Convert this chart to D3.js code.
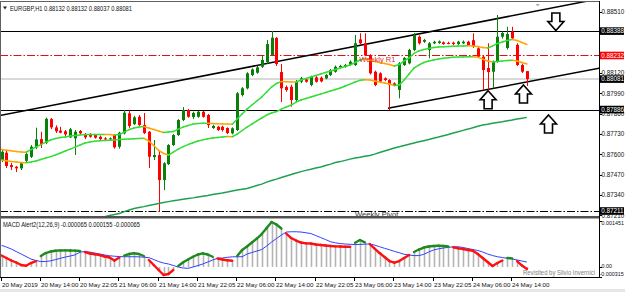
<!DOCTYPE html>
<html><head><meta charset="utf-8">
<script src="https://cdn.jsdelivr.net/npm/d3@7"></script>
<style>html,body{margin:0;padding:0;background:#fff;overflow:hidden}svg{display:block}text{font-family:"Liberation Sans",Arial,sans-serif}</style>
</head><body><svg id="c" width="625" height="292"></svg>
<script>
const symbol = "EURGBP,H1";
const open = [0.87563,0.87610,0.87531,0.87520,0.87510,0.87558,0.87584,0.87644,0.87697,0.87674,
0.87825,0.87772,0.87751,0.87747,0.87708,0.87702,0.87749,0.87723,0.87729,0.87723,
0.87712,0.87702,0.87697,0.87723,0.87648,0.87734,0.87862,0.87793,0.87840,0.87787,
0.87744,0.87582,0.87595,0.87435,0.87537,0.87659,0.87723,0.87819,0.87883,0.87838,
0.87840,0.87872,0.87851,0.87768,0.87776,0.87776,0.87768,0.87734,0.87755,0.87979,
0.88022,0.88107,0.88122,0.88160,0.88190,0.88235,0.88344,0.88126,0.88030,0.88032,
0.87947,0.88064,0.88079,0.88043,0.88092,0.88090,0.88086,0.88107,0.88128,0.88156,
0.88160,0.88171,0.88171,0.88335,0.88310,0.88235,0.88128,0.88118,0.88086,0.88075,
0.88054,0.88011,0.88171,0.88182,0.88267,0.88352,0.88320,0.88267,0.88310,0.88312,
0.88316,0.88312,0.88314,0.88305,0.88310,0.88320,0.88330,0.88278,0.88224,0.88152,
0.88128,0.88192,0.88352,0.88280,0.88384,0.88300,0.88171,0.88132];
const high = [0.87627,0.87621,0.87544,0.87525,0.87550,0.87614,0.87659,0.87770,0.87744,0.87834,
0.87832,0.87785,0.87776,0.87755,0.87768,0.87755,0.87755,0.87736,0.87736,0.87729,
0.87720,0.87710,0.87708,0.87729,0.87744,0.87883,0.87880,0.87846,0.87851,0.87864,
0.87749,0.87691,0.87627,0.87550,0.87665,0.87729,0.87825,0.87902,0.87890,0.87872,
0.87880,0.87878,0.87858,0.87790,0.87781,0.87783,0.87772,0.87772,0.87998,0.88030,
0.88125,0.88150,0.88165,0.88235,0.88331,0.88389,0.88350,0.88177,0.88040,0.88045,
0.88075,0.88095,0.88088,0.88103,0.88100,0.88098,0.88113,0.88145,0.88168,0.88172,
0.88178,0.88200,0.88363,0.88374,0.88374,0.88240,0.88135,0.88125,0.88092,0.88080,
0.88060,0.88190,0.88222,0.88275,0.88376,0.88360,0.88338,0.88318,0.88326,0.88328,
0.88322,0.88320,0.88320,0.88326,0.88328,0.88326,0.88374,0.88285,0.88230,0.88310,
0.88200,0.88491,0.88385,0.88416,0.88416,0.88310,0.88180,0.88132];
const low = [0.87550,0.87512,0.87499,0.87486,0.87499,0.87550,0.87576,0.87633,0.87640,0.87665,
0.87761,0.87736,0.87734,0.87717,0.87704,0.87595,0.87727,0.87697,0.87706,0.87700,
0.87690,0.87688,0.87690,0.87636,0.87636,0.87727,0.87768,0.87787,0.87781,0.87729,
0.87512,0.87563,0.87232,0.87371,0.87531,0.87653,0.87717,0.87812,0.87834,0.87825,
0.87834,0.87834,0.87768,0.87762,0.87749,0.87745,0.87729,0.87727,0.87749,0.87970,
0.88015,0.88100,0.88115,0.88152,0.88180,0.88228,0.88165,0.87934,0.88000,0.87904,
0.87940,0.88055,0.88058,0.88035,0.88058,0.88060,0.88080,0.88100,0.88122,0.88150,
0.88154,0.88165,0.88165,0.88300,0.88228,0.88110,0.88035,0.88055,0.88068,0.87883,
0.88035,0.87958,0.88165,0.88175,0.88260,0.88302,0.88312,0.88214,0.88304,0.88306,
0.88300,0.88304,0.88299,0.88300,0.88305,0.88292,0.88280,0.88216,0.88011,0.88011,
0.88022,0.88185,0.88340,0.88270,0.88335,0.88165,0.88120,0.88037];
const close = [0.87616,0.87525,0.87518,0.87510,0.87542,0.87601,0.87648,0.87695,0.87665,0.87827,
0.87772,0.87747,0.87738,0.87727,0.87760,0.87744,0.87734,0.87708,0.87712,0.87706,
0.87697,0.87695,0.87702,0.87644,0.87738,0.87866,0.87781,0.87836,0.87787,0.87736,
0.87584,0.87595,0.87435,0.87542,0.87659,0.87723,0.87819,0.87883,0.87840,0.87864,
0.87872,0.87840,0.87787,0.87781,0.87755,0.87755,0.87736,0.87766,0.87990,0.88022,
0.88118,0.88143,0.88156,0.88203,0.88305,0.88346,0.88177,0.88022,0.88011,0.87947,
0.88064,0.88086,0.88064,0.88096,0.88064,0.88066,0.88107,0.88139,0.88160,0.88165,
0.88171,0.88192,0.88310,0.88310,0.88235,0.88118,0.88043,0.88064,0.88075,0.88043,
0.88043,0.88182,0.88216,0.88267,0.88363,0.88310,0.88331,0.88310,0.88320,0.88322,
0.88305,0.88311,0.88305,0.88320,0.88320,0.88299,0.88288,0.88224,0.88139,0.88126,
0.88192,0.88352,0.88376,0.88370,0.88342,0.88171,0.88128,0.88081];
const bandUpper = [0.87630,0.87626,0.87622,0.87617,0.87614,0.87613,0.87630,0.87646,0.87662,0.87678,
0.87691,0.87701,0.87707,0.87710,0.87717,0.87720,0.87724,0.87727,0.87727,0.87727,
0.87727,0.87727,0.87726,0.87724,0.87726,0.87742,0.87758,0.87768,0.87774,0.87777,
0.87768,0.87758,0.87749,0.87739,0.87742,0.87745,0.87761,0.87774,0.87784,0.87793,
0.87797,0.87798,0.87798,0.87797,0.87795,0.87794,0.87793,0.87792,0.87825,0.87857,
0.87889,0.87915,0.87941,0.87966,0.87998,0.88030,0.88053,0.88065,0.88064,0.88063,
0.88062,0.88075,0.88085,0.88094,0.88104,0.88113,0.88123,0.88133,0.88142,0.88152,
0.88161,0.88171,0.88187,0.88203,0.88213,0.88203,0.88193,0.88187,0.88181,0.88174,
0.88165,0.88174,0.88197,0.88216,0.88245,0.88261,0.88270,0.88277,0.88283,0.88286,
0.88288,0.88289,0.88291,0.88292,0.88293,0.88294,0.88292,0.88289,0.88283,0.88280,
0.88293,0.88309,0.88318,0.88328,0.88334,0.88328,0.88315,0.88302];
const bandLower = [0.87563,0.87558,0.87553,0.87550,0.87547,0.87546,0.87550,0.87557,0.87566,0.87576,
0.87585,0.87595,0.87608,0.87621,0.87633,0.87646,0.87659,0.87672,0.87678,0.87683,
0.87686,0.87688,0.87689,0.87691,0.87694,0.87696,0.87698,0.87700,0.87701,0.87702,
0.87685,0.87656,0.87624,0.87605,0.87595,0.87614,0.87633,0.87649,0.87662,0.87674,
0.87685,0.87692,0.87699,0.87704,0.87707,0.87710,0.87713,0.87712,0.87729,0.87752,
0.87774,0.87793,0.87813,0.87832,0.87851,0.87864,0.87873,0.87889,0.87902,0.87915,
0.87934,0.87947,0.87957,0.87966,0.87976,0.87985,0.87995,0.88005,0.88014,0.88024,
0.88037,0.88049,0.88062,0.88073,0.88077,0.88075,0.88069,0.88062,0.88056,0.88049,
0.88040,0.88043,0.88075,0.88113,0.88152,0.88171,0.88187,0.88197,0.88203,0.88209,
0.88214,0.88218,0.88220,0.88222,0.88223,0.88224,0.88224,0.88220,0.88209,0.88197,
0.88190,0.88193,0.88197,0.88200,0.88202,0.88197,0.88187,0.88177];
const maLong = [null,null,null,null,null,null,null,null,null,null,
null,null,null,null,null,null,null,null,null,null,
0.87198,0.87201,0.87208,0.87214,0.87221,0.87233,0.87243,0.87253,0.87259,0.87265,
0.87272,0.87278,0.87285,0.87291,0.87297,0.87303,0.87307,0.87312,0.87317,0.87321,
0.87326,0.87331,0.87336,0.87342,0.87347,0.87352,0.87358,0.87365,0.87371,0.87376,
0.87381,0.87390,0.87400,0.87409,0.87422,0.87432,0.87441,0.87451,0.87461,0.87470,
0.87480,0.87489,0.87497,0.87504,0.87512,0.87518,0.87528,0.87537,0.87547,0.87553,
0.87561,0.87569,0.87576,0.87581,0.87587,0.87592,0.87601,0.87611,0.87621,0.87630,
0.87640,0.87648,0.87656,0.87664,0.87672,0.87680,0.87687,0.87694,0.87702,0.87710,
0.87719,0.87727,0.87736,0.87744,0.87753,0.87761,0.87770,0.87779,0.87787,0.87792,
0.87798,0.87803,0.87808,0.87814,0.87819,0.87825,0.87831,0.87836];
const macdMain = [0.000362,0.000284,0.000205,0.000142,0.000063,0.000041,0.000126,0.000189,0.000347,0.000441,
0.000488,0.000513,0.000523,0.000526,0.000523,0.000517,0.000504,0.000473,0.000425,0.000403,
0.000378,0.000331,0.000299,0.000205,0.000299,0.000362,0.000410,0.000432,0.000410,0.000347,
0.000221,0.000063,-0.000095,-0.000252,-0.000221,-0.000095,0.000032,0.000148,0.000236,0.000324,
0.000394,0.000432,0.000394,0.000324,0.000268,0.000236,0.000211,0.000198,0.000347,0.000536,
0.000646,0.000772,0.000898,0.001040,0.001229,0.001418,0.001339,0.001213,0.001055,0.000914,
0.000835,0.000772,0.000747,0.000740,0.000709,0.000693,0.000677,0.000662,0.000652,0.000646,
0.000639,0.000639,0.000765,0.000851,0.000778,0.000725,0.000583,0.000441,0.000315,0.000189,
0.000135,0.000189,0.000284,0.000378,0.000473,0.000551,0.000614,0.000646,0.000662,0.000671,
0.000662,0.000646,0.000624,0.000589,0.000567,0.000536,0.000513,0.000410,0.000284,0.000158,
0.000032,0.000126,0.000205,0.000284,0.000274,0.000189,0.000047,-0.000065];
const macdSignal = [0.000684,0.000630,0.000567,0.000488,0.000410,0.000331,0.000252,0.000205,0.000173,0.000173,
0.000195,0.000233,0.000274,0.000315,0.000347,0.000384,0.000470,0.000490,0.000470,0.000440,
0.000410,0.000380,0.000355,0.000340,0.000330,0.000324,0.000324,0.000324,0.000321,0.000309,
0.000296,0.000236,0.000173,0.000126,0.000095,0.000047,0.000000,-0.000032,-0.000041,0.000000,
0.000047,0.000095,0.000158,0.000221,0.000275,0.000284,0.000306,0.000321,0.000324,0.000324,
0.000410,0.000457,0.000504,0.000551,0.000662,0.000788,0.000898,0.001008,0.001103,0.001112,
0.001112,0.001103,0.001080,0.001055,0.000992,0.000929,0.000866,0.000797,0.000762,0.000740,
0.000725,0.000715,0.000709,0.000712,0.000720,0.000728,0.000690,0.000640,0.000590,0.000545,
0.000495,0.000450,0.000400,0.000380,0.000360,0.000360,0.000400,0.000473,0.000536,0.000573,
0.000599,0.000621,0.000636,0.000639,0.000614,0.000583,0.000551,0.000520,0.000473,0.000410,
0.000362,0.000324,0.000299,0.000274,0.000252,0.000221,0.000189,0.000155];
const timeLabels = ["20 May 2019","20 May 14:00","20 May 22:05","21 May 06:00","21 May 14:00","21 May 22:05","22 May 06:00","22 May 14:00","22 May 22:05","23 May 06:00","23 May 14:00","23 May 22:05","24 May 06:00","24 May 14:00"];
const timeLabelBars = [0,8,16,24,32,40,48,56,64,72,80,88,96,104];
const priceTicks = [0.88510,0.88120,0.87990,0.87860,0.87730,0.87600,0.87470,0.87340,0.87210];
const levelPrices = [0.88388,0.87886];
const weeklyR1 = 0.88232;
const weeklyPivot = 0.87237;
const weeklyPivotLabel = "0.87211";
const macdTicks = [0.001451,0,-0.000315];
const macdTickLabels = ["0.001451","0.00","-0.000315"];
const channelUpper = [[0,0.87850],[100,0.88462]];
const channelLower = [[78.7,0.87894],[100,0.88021]];
const arrowBars = [112.9,99.1,106.3,111.4];
const arrowPrices = [0.88504,0.88006,0.88043,0.87851];
const arrowDirs = ["down","up","up","up"];

const svg = d3.select("#c");
const W = 625, AX = 599;
const n = close.length;
const xs = d3.scaleLinear().domain([0, n-1]).range([1.5, 526.9]);
const ys = d3.scaleLinear().domain([0.87205, 0.88587]).range([216, 0]);
const ms = d3.scaleLinear().domain([-0.000315, 0.001451]).range([277, 221]);
const fmt5 = d3.format(".5f");

svg.append("rect").attr("width",W).attr("height",292).attr("fill","#fff");
const defs = svg.append("defs");
defs.append("clipPath").attr("id","mainClip").append("rect").attr("x",0).attr("y",2).attr("width",AX).attr("height",214);
defs.append("clipPath").attr("id","macdClip").append("rect").attr("x",0).attr("y",219).attr("width",AX).attr("height",58);

const main = svg.append("g").attr("clip-path","url(#mainClip)");
main.append("line").attr("x1",0).attr("x2",AX).attr("y1",ys(close[n-1])).attr("y2",ys(close[n-1])).attr("stroke","#d9d9d9").attr("stroke-width",2);
levelPrices.forEach(p=>{
  main.append("line").attr("x1",0).attr("x2",AX).attr("y1",Math.round(ys(p))+0.5).attr("y2",Math.round(ys(p))+0.5).attr("stroke","#000").attr("stroke-width",1.2);
});
main.append("line").attr("x1",0).attr("x2",AX).attr("y1",Math.round(ys(weeklyR1))+0.5).attr("y2",Math.round(ys(weeklyR1))+0.5).attr("stroke","#e01010").attr("stroke-width",1).attr("stroke-dasharray","8,2,1.5,2");
main.append("line").attr("x1",0).attr("x2",AX).attr("y1",Math.round(ys(weeklyPivot))+0.5).attr("y2",Math.round(ys(weeklyPivot))+0.5).attr("stroke","#000").attr("stroke-width",1).attr("stroke-dasharray","8,2,1.5,2");

function ray(pts, startBar){
  const [b1,p1]=pts[0],[b2,p2]=pts[1];
  const slope=(p2-p1)/(b2-b1);
  const bEnd = xs.invert(AX+2);
  main.append("line").attr("x1",xs(startBar)).attr("y1",ys(p1+slope*(startBar-b1)))
    .attr("x2",xs(bEnd)).attr("y2",ys(p1+slope*(bEnd-b1)))
    .attr("stroke","#000").attr("stroke-width",1.5);
}
ray(channelUpper, xs.invert(-2));
ray(channelLower, channelLower[0][0]);

const cg = main.append("g");
for(let i=0;i<n;i++){
  const x = Math.round(xs(i));
  const up = close[i] >= open[i];
  const col = up ? "#0a7f0a" : "#ff0000";
  cg.append("line").attr("x1",x+0.5).attr("x2",x+0.5).attr("y1",ys(high[i])).attr("y2",ys(low[i])).attr("stroke",col).attr("stroke-width",1);
  const yT = ys(Math.max(open[i],close[i])), yB = ys(Math.min(open[i],close[i]));
  cg.append("rect").attr("x",x-1).attr("y",yT).attr("width",3).attr("height",Math.max(1,yB-yT)).attr("fill",col);
}

function band(vals, upCol, dnCol, w){
  for(let i=1;i<vals.length;i++){
    if(vals[i]==null||vals[i-1]==null) continue;
    main.append("line").attr("x1",xs(i-1)).attr("y1",ys(vals[i-1])).attr("x2",xs(i)).attr("y2",ys(vals[i]))
      .attr("stroke", vals[i]>=vals[i-1]?upCol:dnCol).attr("stroke-width",w).attr("stroke-linecap","round");
  }
}
const longLine = d3.line().defined(d=>d!=null).x((d,i)=>xs(i)).y(d=>ys(d));
main.append("path").attr("d",longLine(maLong)).attr("fill","none").attr("stroke","#1fa050").attr("stroke-width",1.5);
band(bandLower,"#33dd33","#ffa500",1.5);
band(bandUpper,"#33dd33","#ffa500",1.5);

const upPath = "M0,0 L8,9 L4,9 L4,18 L-4,18 L-4,9 L-8,9 Z";
const dnPath = "M-4,0 L4,0 L4,8.5 L8,8.5 L0,17.5 L-8,8.5 L-4,8.5 Z";
arrowBars.forEach((b,k)=>{
  main.append("path").attr("d", arrowDirs[k]==="up"?upPath:dnPath)
    .attr("transform",`translate(${xs(b)},${ys(arrowPrices[k])})`)
    .attr("fill","#fff").attr("stroke","#000").attr("stroke-width",1.6).attr("stroke-linejoin","miter");
});

main.append("text").attr("x",xs(80)+1).attr("y",ys(weeklyR1)+7).attr("text-anchor","end").attr("font-size",7.5).attr("fill","#e03030").text("Weekly R1");
main.append("text").attr("x",xs(80)+4).attr("y",ys(weeklyPivot)+6.5).attr("text-anchor","end").attr("font-size",7.5).attr("fill","#333").text("Weekly Pivot");

svg.append("path").attr("d","M-2,0 L2,0 L0,2.5 Z").attr("transform",`translate(${xs(109.2)},4)`).attr("fill","#aaa");

svg.append("path").attr("d","M3,6.5 L7,6.5 L5,9.5 Z").attr("fill","#222");
svg.append("text").attr("x",10).attr("y",10.5).attr("font-size",7.5).attr("fill","#111")
  .attr("textLength",122).attr("lengthAdjust","spacingAndGlyphs")
  .text(`${symbol}  ${fmt5(open[n-1])} ${fmt5(high[n-1])} ${fmt5(low[n-1])} ${fmt5(close[n-1])}`);

const mg = svg.append("g").attr("clip-path","url(#macdClip)");
for(let i=0;i<n;i++){
  const x = Math.round(xs(i))+0.5;
  mg.append("line").attr("x1",x).attr("x2",x).attr("y1",ms(0)).attr("y2",ms(macdMain[i])).attr("stroke","#b4b4b4").attr("stroke-width",1.6);
}
const sigLine = d3.line().x((d,i)=>xs(i)).y(d=>ms(d));
mg.append("path").attr("d",sigLine(macdSignal)).attr("fill","none").attr("stroke","#3040ff").attr("stroke-width",1);
for(let i=1;i<n;i++){
  const s0 = macdMain[i-1]>=macdSignal[i-1], s1 = macdMain[i]>=macdSignal[i];
  if(s0!==s1) continue;
  mg.append("line").attr("x1",xs(i-1)).attr("y1",ms(macdMain[i-1])).attr("x2",xs(i)).attr("y2",ms(macdMain[i]))
    .attr("stroke", s1?"#1e8a1e":"#ff1010").attr("stroke-width",2.4).attr("stroke-linecap","round");
}
svg.append("text").attr("x",3).attr("y",226.5).attr("font-size",7.5).attr("fill","#111")
  .attr("textLength",137).attr("lengthAdjust","spacingAndGlyphs")
  .text(`MACD Alert2(12,26,9) ${macdMain[n-1].toFixed(6)} ${macdSignal[n-1].toFixed(6)} ${macdMain[n-1].toFixed(6)}`);
svg.append("text").attr("x",595).attr("y",274.5).attr("text-anchor","end").attr("font-size",7).attr("fill","#808080")
  .attr("textLength",72).attr("lengthAdjust","spacingAndGlyphs").text("Revisited by Silvio Invernici");

svg.append("rect").attr("x",0).attr("y",216).attr("width",AX).attr("height",2.5).attr("fill","#505050");
svg.append("line").attr("x1",0).attr("x2",AX+1).attr("y1",1.5).attr("y2",1.5).attr("stroke","#606060");
svg.append("line").attr("x1",0.5).attr("x2",0.5).attr("y1",1).attr("y2",277).attr("stroke","#606060");
svg.append("line").attr("x1",AX+0.5).attr("x2",AX+0.5).attr("y1",1).attr("y2",277).attr("stroke","#000");
svg.append("line").attr("x1",0).attr("x2",AX+1).attr("y1",277.5).attr("y2",277.5).attr("stroke","#000");

priceTicks.forEach(p=>{
  const y = ys(p);
  svg.append("line").attr("x1",AX).attr("x2",AX+3).attr("y1",Math.round(y)+0.5).attr("y2",Math.round(y)+0.5).attr("stroke","#000");
  svg.append("text").attr("x",601.5).attr("y",y+2.3).attr("font-size",6.3).attr("fill","#111").text(fmt5(p));
});
function box(p, label, bg){
  const y = ys(p);
  svg.append("rect").attr("x",AX+1).attr("y",y-3.8).attr("width",24).attr("height",7.6).attr("fill",bg);
  svg.append("text").attr("x",601.3).attr("y",y+2.3).attr("font-size",6.3).attr("fill","#fff").text(label);
}
levelPrices.forEach(p=>box(p, fmt5(p), "#000"));
box(weeklyR1, fmt5(weeklyR1), "#ff0000");
box(close[n-1], fmt5(close[n-1]), "#000");
box(weeklyPivot, weeklyPivotLabel, "#000");

const macdLabelY = [224.5, 268.3, 276.2];
macdTicks.forEach((v,k)=>{
  svg.append("line").attr("x1",AX).attr("x2",AX+3).attr("y1",Math.round(ms(v))+0.5).attr("y2",Math.round(ms(v))+0.5).attr("stroke","#000");
  svg.append("text").attr("x",k===2?599.5:601.5).attr("y",macdLabelY[k]).attr("font-size",5.4).attr("fill","#111").text(macdTickLabels[k]);
});

timeLabelBars.forEach((b,k)=>{
  const x = Math.round(xs(b))-0.5;
  svg.append("line").attr("x1",x).attr("x2",x).attr("y1",277).attr("y2",281).attr("stroke","#000");
  svg.append("text").attr("x",x+0.5).attr("y",286.5).attr("font-size",6.2).attr("fill","#111").text(timeLabels[k]);
});
svg.append("rect").attr("x",0).attr("y",289).attr("width",W).attr("height",3).attr("fill","#e6e6e6");
</script></body></html>
